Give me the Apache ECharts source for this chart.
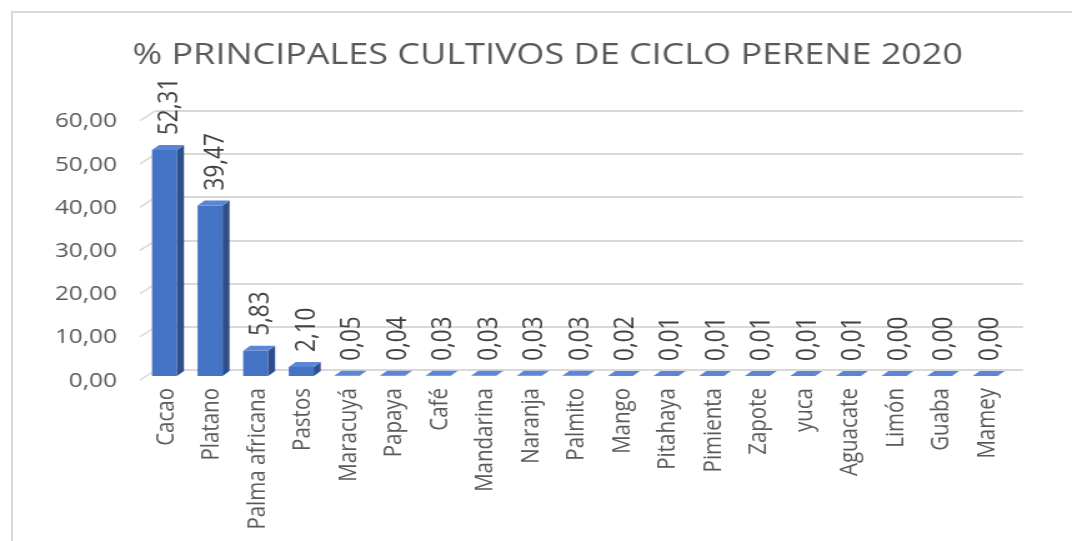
<!DOCTYPE html>
<html>
<head>
<meta charset="utf-8">
<script src="https://cdn.jsdelivr.net/npm/echarts@6/dist/echarts.min.js"></script>
<style>
  html, body { margin: 0; padding: 0; background: #ffffff; overflow: hidden; }
  #frame { position: absolute; left: 11px; top: 11px; width: 1200px; height: 700px;
           border-top: 2px solid #d9d9d9; border-left: 2px solid #d9d9d9; }
  #chart { position: absolute; left: 0; top: 0; width: 858px; height: 541px;
           transform: scaleX(1.2494); transform-origin: 0 0; }
</style>
</head>
<body>
<div id="frame"></div>
<div id="chart"></div>
<script>
// ---- data ----
const titleText = '% PRINCIPALES CULTIVOS DE CICLO PERENE 2020';
const categories = ['Cacao', 'Platano', 'Palma africana', 'Pastos', 'Maracuyá', 'Papaya', 'Café',
  'Mandarina', 'Naranja', 'Palmito', 'Mango', 'Pitahaya', 'Pimienta', 'Zapote', 'yuca',
  'Aguacate', 'Limón', 'Guaba', 'Mamey'];
const values = [52.31, 39.47, 5.83, 2.10, 0.05, 0.04, 0.03, 0.03, 0.03, 0.03, 0.02,
  0.01, 0.01, 0.01, 0.01, 0.01, 0.00, 0.00, 0.00];
const yTicks = [0, 10, 20, 30, 40, 50, 60];

const FONT = "'Open Sans', sans-serif";
const fmt = v => Number(v).toFixed(2).replace('.', ',');

const chart = echarts.init(document.getElementById('chart'), null, { renderer: 'canvas' });

const barData = values.map((v, i) => [i, v]);

function renderBar(params, api) {
  const i = api.value(0), v = api.value(1);
  const top = api.coord([i, v]);
  const base = api.coord([i, 0]);
  const bw = api.size([1, 0])[0];
  const c = top[0];
  const xl = c - 0.307 * bw;
  const xr = c + 0.241 * bw;
  const dx = 0.153 * bw;
  const dy = 5;
  const yt = top[1], yb = base[1];
  return {
    type: 'group',
    children: [
      { type: 'rect', shape: { x: xl, y: yt, width: xr - xl, height: yb - yt },
        style: { fill: '#4472C4' } },
      { type: 'polygon', shape: { points: [[xr, yt], [xr + dx, yt - dy], [xr + dx, yb - dy], [xr, yb]] },
        style: { fill: '#2E4F8C' } },
      { type: 'polygon', shape: { points: [[xl, yt], [xl + dx, yt - dy], [xr + dx, yt - dy], [xr, yt]] },
        style: { fill: '#5B86D6' } },
      { type: 'text', x: c + 2.8, y: yt - 15, rotation: Math.PI / 2,
        style: { text: fmt(v), fill: '#404040', fontSize: 22.5, fontFamily: FONT,
                 align: 'left', verticalAlign: 'middle' } }
    ]
  };
}

function renderStub(params, api) {
  const p = api.coord([0, api.value(0)]);
  return {
    type: 'line',
    shape: { x1: p[0] - 12.8, y1: p[1] + 10, x2: p[0], y2: p[1] },
    style: { stroke: '#d9d9d9', lineWidth: 1.5 }
  };
}

const option = {
  backgroundColor: 'transparent',
  animation: false,
  title: {
    text: titleText,
    left: 106,
    top: 41,
    padding: 0,
    textStyle: { fontFamily: FONT, fontSize: 28.8, fontWeight: 'normal', color: '#595959' }
  },
  grid: [
    { left: 114.6, right: 50, top: 116.8, bottom: 165 },
    { left: 124.8, right: 39.2, top: 110.7, bottom: 171 },
    { left: 114.6, right: 50, top: 121.8, bottom: 160 }
  ],
  xAxis: [
    { type: 'category', gridIndex: 0, data: categories,
      axisLine: { show: false }, axisTick: { show: false },
      axisLabel: { rotate: 90, interval: 0, margin: 12, color: '#595959',
                   fontSize: 20.5, fontFamily: FONT } },
    { type: 'value', gridIndex: 1, min: 0, max: 1, show: false },
    { type: 'value', gridIndex: 2, min: 0, max: 1, show: false }
  ],
  yAxis: [
    { type: 'value', gridIndex: 0, min: 0, max: 60, interval: 10, show: false },
    { type: 'value', gridIndex: 1, min: 0, max: 60, interval: 10,
      axisLine: { show: false }, axisTick: { show: false }, axisLabel: { show: false },
      splitLine: { show: true, lineStyle: { color: '#d9d9d9', width: 2 } } },
    { type: 'value', gridIndex: 2, min: 0, max: 60, interval: 10,
      axisLine: { show: false }, axisTick: { show: false }, splitLine: { show: false },
      axisLabel: { margin: 21, color: '#595959', fontSize: 19.5, fontFamily: FONT,
                   formatter: v => fmt(v) } }
  ],
  series: [
    { type: 'custom', xAxisIndex: 1, yAxisIndex: 1, data: yTicks.map(t => [t]),
      encode: { y: 0 }, renderItem: renderStub, silent: true, z: 1 },
    { type: 'custom', xAxisIndex: 0, yAxisIndex: 0, data: barData,
      encode: { x: 0, y: 1 }, renderItem: renderBar, z: 5 }
  ]
};
chart.setOption(option);
</script>
</body>
</html>
